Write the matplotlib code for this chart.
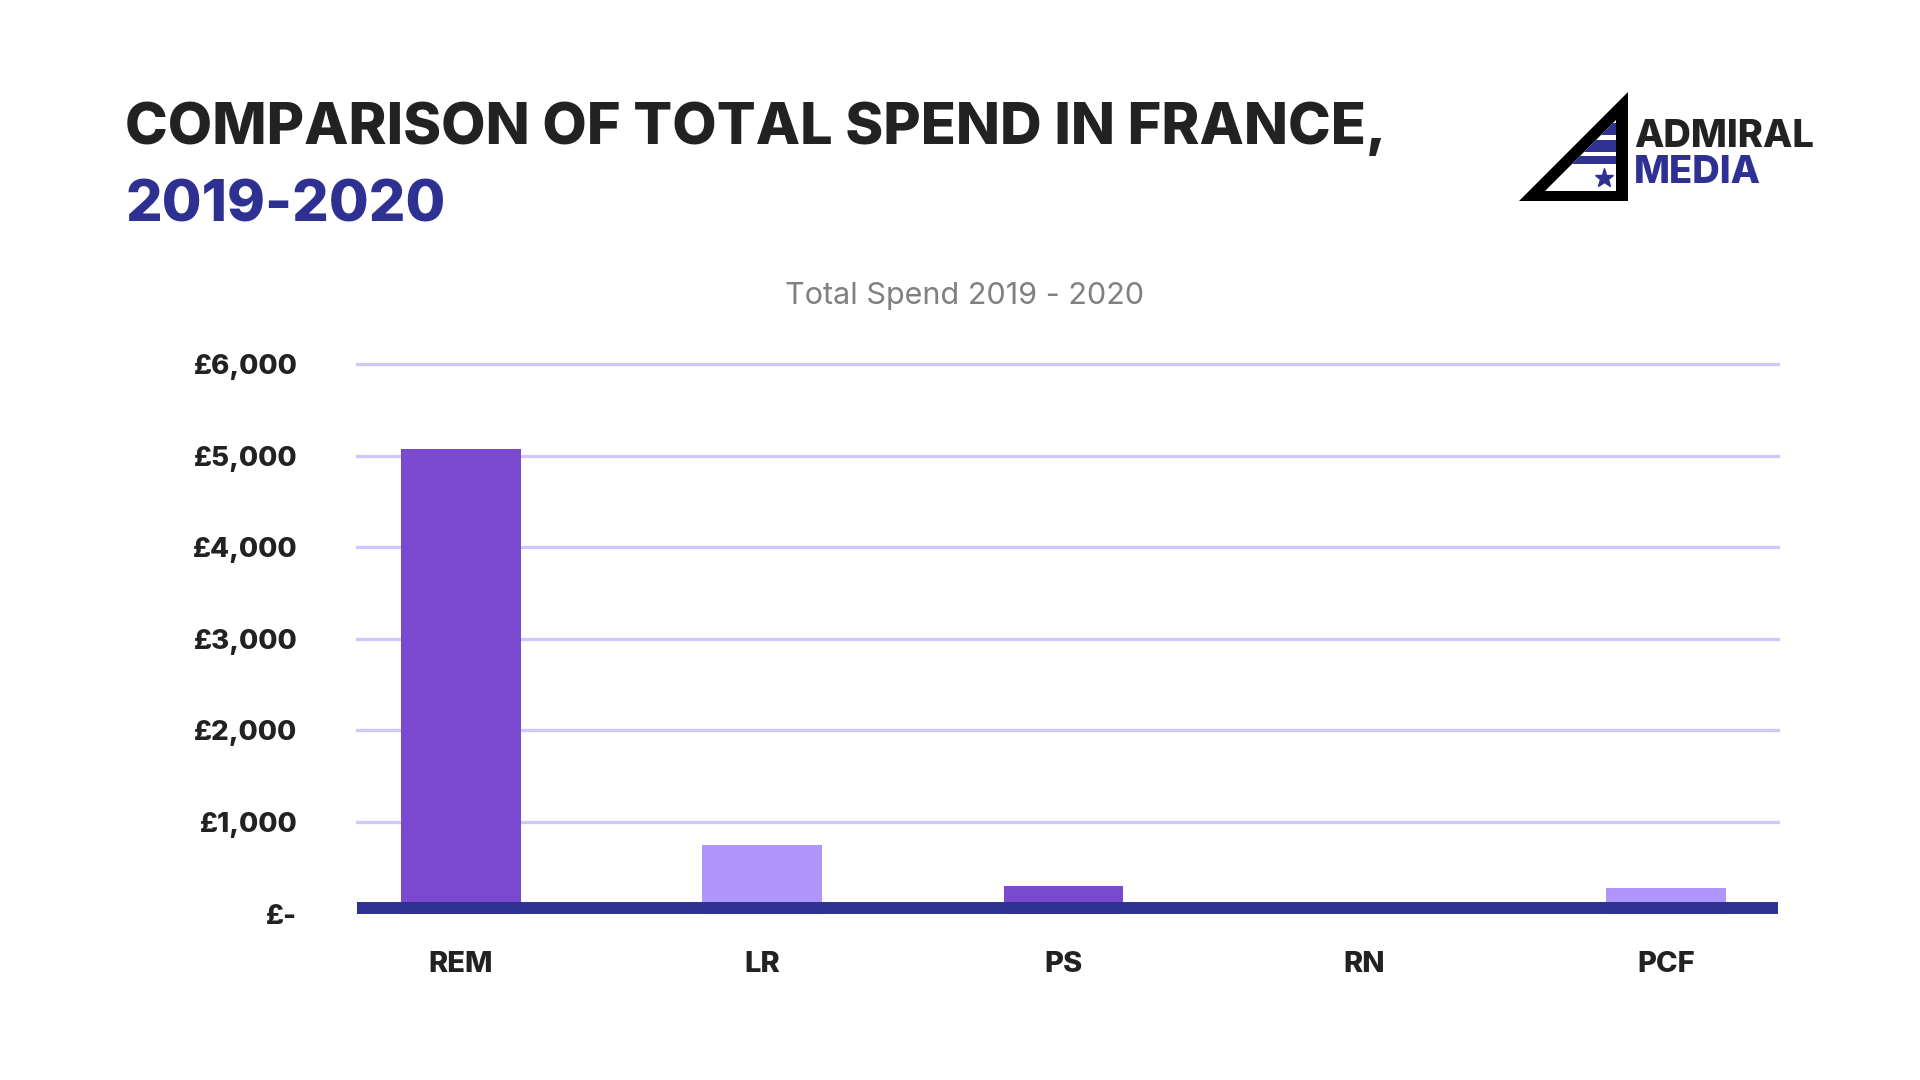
import numpy as np
import matplotlib.pyplot as plt
import matplotlib.transforms as mtransforms
from matplotlib.patches import Polygon

# ------------------------------------------------
# Data
# ------------------------------------------------

parties = ["REM", "LR", "PS", "RN", "PCF"]
spend = [5073, 752, 305, 0, 284]
bar_colors = ["#7b48d0", "#b096fc", "#7b48d0", "#b096fc", "#b096fc"]

y_ticks = [0, 1000, 2000, 3000, 4000, 5000, 6000]
y_labels = ["£-", "£1,000", "£2,000", "£3,000", "£4,000", "£5,000", "£6,000"]

NAVY = "#2e3192"
GRID = "#d2c6fb"
DARK = "#222222"

plt.rcParams["font.family"] = ["Inter", "DejaVu Sans"]

fig = plt.figure(figsize=(19.2, 10.8), dpi=100)
fig.patch.set_facecolor("white")

# ------------------------------------------------
# Bar chart
# ------------------------------------------------

ax = fig.add_axes([0.186, 0.154, 0.740, 0.509])

x = np.arange(len(parties))
ax.bar(x, spend, width=0.398, color=bar_colors, zorder=2)

for t in y_ticks[1:]:
    ax.axhline(t, color=GRID, linewidth=2.4, zorder=1, clip_on=False)

# thick base line, slightly lifted so it covers the foot of the bars
lift = mtransforms.offset_copy(ax.get_yaxis_transform(), fig=fig, x=0, y=5.5, units="dots")
ax.plot([0, 1], [0, 0], transform=lift, color=NAVY, linewidth=8.6, zorder=3,
        clip_on=False, solid_capstyle="butt")

ax.set_xlim(-0.345, 4.372)
ax.set_ylim(0, 6000)
ax.set_yticks(y_ticks)
ax.set_yticklabels(y_labels)
ax.set_xticks(x)
ax.set_xticklabels(parties)

ax.tick_params(axis="y", length=0, pad=43, labelsize=20, labelcolor=DARK)
ax.tick_params(axis="x", length=0, pad=27, labelsize=21, labelcolor=DARK)
for lbl in ax.get_yticklabels() + ax.get_xticklabels():
    lbl.set_fontweight("heavy")

for s in ax.spines.values():
    s.set_visible(False)

# ------------------------------------------------
# Titles
# ------------------------------------------------

fig.text(125 / 1920, 1 - 144 / 1080, "COMPARISON OF TOTAL SPEND IN FRANCE,",
         fontsize=41.5, fontweight="heavy", color=DARK, ha="left", va="baseline")
fig.text(125 / 1920, 1 - 221 / 1080, "2019-2020",
         fontsize=41.5, fontweight="heavy", color=NAVY, ha="left", va="baseline")
fig.text(965 / 1920, 1 - 296 / 1080, "Total Spend 2019 - 2020",
         fontsize=22, color="#808080", ha="center", va="center")

# ------------------------------------------------
# Logo
# ------------------------------------------------

lg = fig.add_axes([0, 0, 1, 1], zorder=5)
lg.set_xlim(0, 1920)
lg.set_ylim(1080, 0)
lg.axis("off")

lg.add_patch(Polygon([(1519, 201), (1628, 92), (1628, 201)], closed=True,
                     color="black", lw=0))
inner = Polygon([(1545, 191), (1616, 120), (1616, 191)], closed=True,
                color="white", lw=0)
lg.add_patch(inner)
for y0, y1 in [(123, 135), (140, 152), (156, 164)]:
    stripe = lg.fill_between([1530, 1620], y0, y1, color=NAVY, lw=0)
    stripe.set_clip_path(inner)
lg.plot([1604], [178], marker="*", markersize=14, color=NAVY, mec=NAVY)

lg.text(1634, 137, "ADMIRAL", fontsize=27.5, fontweight="heavy", color=DARK,
        ha="left", va="center")
lg.text(1634, 173, "MEDIA", fontsize=27.5, fontweight="heavy", color=NAVY,
        ha="left", va="center")

fig.savefig("out.png", dpi=100)
